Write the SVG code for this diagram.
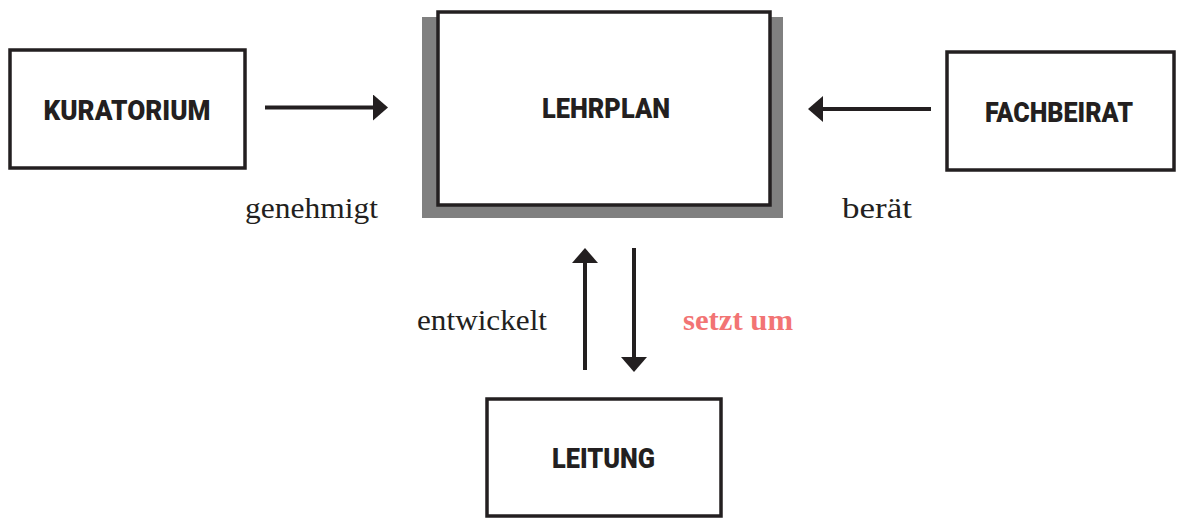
<svg xmlns="http://www.w3.org/2000/svg" width="1178" height="518" viewBox="0 0 1178 518">
<style>
.box{fill:#fff;stroke:#231f20;stroke-width:3.5}
.nt{font-family:Roboto,"Liberation Sans",Arial,sans-serif;font-weight:900;font-size:28px;fill:#231f20;text-anchor:middle}
.lb{font-family:"Liberation Serif","Times New Roman",serif;font-size:30px;fill:#231f20}
.cn{stroke:#231f20;stroke-width:4;fill:none;marker-end:url(#ah)}
</style>
<defs>
<marker id="ah" viewBox="0 0 15 26" refX="0" refY="13" markerWidth="15" markerHeight="26" markerUnits="userSpaceOnUse" orient="auto">
<path d="M0,0 L15,13 L0,26 Z" fill="#231f20"/>
</marker>
</defs>
<rect width="1178" height="518" fill="#fff"/>
<g id="kuratorium">
<rect class="box" x="10" y="50" width="235" height="118"/>
<text class="nt" x="127" y="120" textLength="167" lengthAdjust="spacingAndGlyphs">KURATORIUM</text>
</g>
<g id="lehrplan">
<rect x="422" y="17" width="361" height="201" fill="#808080"/>
<rect class="box" x="438" y="12" width="332" height="193"/>
<text class="nt" x="606" y="118" textLength="128" lengthAdjust="spacingAndGlyphs">LEHRPLAN</text>
</g>
<g id="fachbeirat">
<rect class="box" x="947" y="52" width="227" height="118"/>
<text class="nt" x="1059" y="122" textLength="148" lengthAdjust="spacingAndGlyphs">FACHBEIRAT</text>
</g>
<g id="leitung">
<rect class="box" x="487" y="399" width="234" height="117"/>
<text class="nt" x="603.5" y="468" textLength="103" lengthAdjust="spacingAndGlyphs">LEITUNG</text>
</g>
<g id="connectors">
<path class="cn" d="M265,107.5 H373"/>
<path class="cn" d="M931,109 H823"/>
<path class="cn" d="M585,370 V263"/>
<path class="cn" d="M634,248 V357"/>
</g>
<g id="labels">
<text class="lb" x="245" y="218" textLength="133" lengthAdjust="spacingAndGlyphs">genehmigt</text>
<text class="lb" x="842" y="218" textLength="70" lengthAdjust="spacingAndGlyphs">berät</text>
<text class="lb" x="417" y="330" textLength="130" lengthAdjust="spacingAndGlyphs">entwickelt</text>
<text class="lb" x="683" y="330" textLength="110" lengthAdjust="spacingAndGlyphs" style="fill:#f27474;font-weight:bold">setzt um</text>
</g>
</svg>
